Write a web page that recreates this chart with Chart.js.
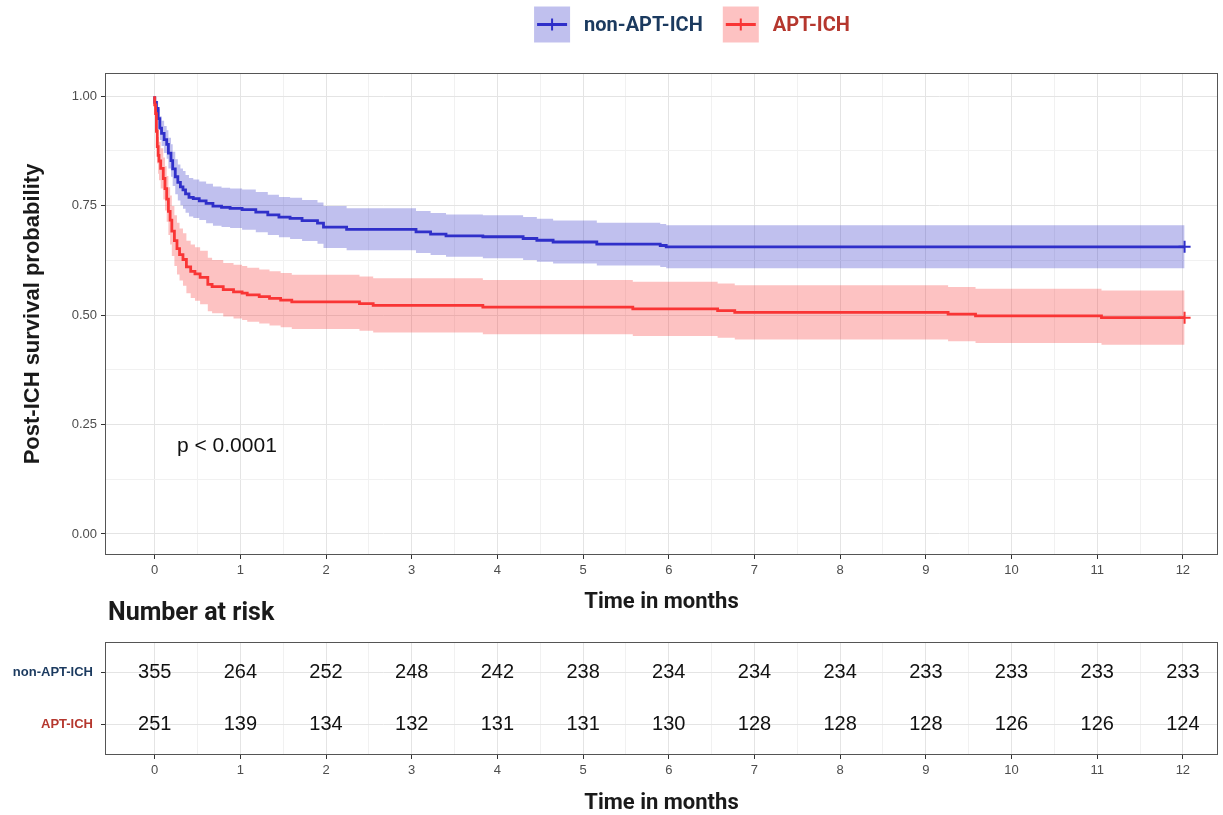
<!DOCTYPE html>
<html>
<head>
<meta charset="utf-8">
<title>Post-ICH survival</title>
<script src="https://cdn.jsdelivr.net/npm/chart.js@4.4.1/dist/chart.umd.min.js"></script>
<style>
  body { margin: 0; background: #fff; }
  #wrap { position: relative; width: 1223px; height: 815px; }
  #survChart { position: absolute; left: 0; top: 0; }
  #riskChart { position: absolute; left: 0; top: 590px; }
</style>
</head>
<body>
<div id="wrap">
  <canvas id="survChart" width="1223" height="625"></canvas>
  <canvas id="riskChart" width="1223" height="225"></canvas>
</div>
<script>
// Series names and colours
const seriesNames = ['non-APT-ICH', 'APT-ICH'];
const lineColors = ['#2f2fc9', '#f93535'];
const bandColors = ['rgba(47, 47, 200, 0.3)', 'rgba(248, 52, 52, 0.3)'];
const labelColors = ['#1b3a5f', '#b5372e'];

// Tick labels
const monthTicks = [0, 1, 2, 3, 4, 5, 6, 7, 8, 9, 10, 11, 12];
const probTicks = [0, 0.25, 0.5, 0.75, 1];

// non-APT-ICH Kaplan-Meier steps (months, survival, 95% CI)
const blueTime = [0, 0.02, 0.04, 0.06, 0.08, 0.11, 0.14, 0.16, 0.19, 0.21, 0.24, 0.27, 0.30, 0.33, 0.36, 0.40, 0.45, 0.52, 0.60, 0.68, 0.78, 0.88, 1.02, 1.18, 1.32, 1.45, 1.58, 1.72, 1.90, 1.97, 2.24, 3.05, 3.22, 3.40, 3.83, 4.30, 4.46, 4.65, 5.16, 5.90, 5.97, 8.90, 12.02];
const blueSurv = [1.000, 0.986, 0.972, 0.949, 0.927, 0.915, 0.901, 0.890, 0.870, 0.853, 0.834, 0.816, 0.803, 0.793, 0.786, 0.777, 0.769, 0.766, 0.761, 0.755, 0.749, 0.746, 0.744, 0.741, 0.735, 0.729, 0.724, 0.721, 0.716, 0.710, 0.701, 0.696, 0.690, 0.685, 0.681, 0.679, 0.675, 0.671, 0.667, 0.662, 0.659, 0.656, 0.656];
const blueUpper = [1.000, 0.998, 0.989, 0.972, 0.954, 0.944, 0.932, 0.922, 0.905, 0.890, 0.873, 0.856, 0.844, 0.835, 0.829, 0.820, 0.813, 0.810, 0.805, 0.800, 0.794, 0.791, 0.789, 0.787, 0.781, 0.775, 0.770, 0.768, 0.763, 0.757, 0.749, 0.744, 0.738, 0.733, 0.730, 0.728, 0.724, 0.720, 0.716, 0.711, 0.708, 0.705, 0.705];
const blueLower = [1.000, 0.974, 0.955, 0.926, 0.900, 0.886, 0.870, 0.857, 0.835, 0.816, 0.795, 0.776, 0.762, 0.751, 0.743, 0.734, 0.725, 0.722, 0.717, 0.710, 0.704, 0.701, 0.699, 0.695, 0.689, 0.683, 0.678, 0.674, 0.669, 0.663, 0.653, 0.648, 0.642, 0.637, 0.633, 0.630, 0.626, 0.622, 0.618, 0.613, 0.610, 0.607, 0.607];

// APT-ICH Kaplan-Meier steps
const redTime = [0, 0.01, 0.02, 0.03, 0.04, 0.05, 0.07, 0.10, 0.12, 0.14, 0.16, 0.18, 0.20, 0.23, 0.26, 0.29, 0.33, 0.37, 0.42, 0.47, 0.53, 0.62, 0.67, 0.80, 0.92, 1.02, 1.08, 1.22, 1.34, 1.47, 1.60, 2.39, 2.55, 3.83, 5.58, 6.57, 6.77, 9.26, 9.58, 11.05, 11.35, 12.02];
const redSurv = [1.000, 0.980, 0.960, 0.920, 0.885, 0.865, 0.852, 0.835, 0.812, 0.789, 0.765, 0.737, 0.717, 0.692, 0.670, 0.652, 0.638, 0.627, 0.610, 0.600, 0.594, 0.586, 0.570, 0.565, 0.558, 0.553, 0.550, 0.546, 0.542, 0.538, 0.534, 0.530, 0.526, 0.522, 0.518, 0.514, 0.510, 0.506, 0.502, 0.498, 0.494, 0.494];
const redUpper = [1.000, 0.997, 0.984, 0.954, 0.925, 0.907, 0.896, 0.881, 0.860, 0.840, 0.818, 0.792, 0.773, 0.749, 0.728, 0.711, 0.698, 0.687, 0.670, 0.661, 0.655, 0.647, 0.631, 0.626, 0.619, 0.615, 0.612, 0.608, 0.604, 0.600, 0.596, 0.592, 0.588, 0.584, 0.580, 0.576, 0.572, 0.568, 0.564, 0.560, 0.556, 0.556];
const redLower = [1.000, 0.963, 0.936, 0.886, 0.846, 0.823, 0.808, 0.789, 0.764, 0.739, 0.713, 0.683, 0.661, 0.635, 0.612, 0.593, 0.579, 0.567, 0.550, 0.539, 0.533, 0.525, 0.509, 0.504, 0.497, 0.492, 0.489, 0.485, 0.481, 0.476, 0.472, 0.468, 0.464, 0.460, 0.456, 0.452, 0.448, 0.444, 0.440, 0.436, 0.432, 0.432];

// Number at risk
const riskNonApt = [355, 264, 252, 248, 242, 238, 234, 234, 234, 233, 233, 233, 233];
const riskApt = [251, 139, 134, 132, 131, 131, 130, 128, 128, 128, 126, 126, 124];

const pValueText = 'p < 0.0001';

Chart.defaults.font.family = '"Liberation Sans", Arial, sans-serif';
Chart.defaults.animation = false;

const GRID_MAJOR = '#e4e4e4';
const GRID_MINOR = '#f1f1f1';
const TICK_TEXT = '#4d4d4d';

// half-month grid for x, eighth grid for y
const monthGrid = [];
monthTicks.forEach((m, i) => {
    monthGrid.push(m);
    if (i < monthTicks.length - 1) monthGrid.push(m + 0.5);
});
const probGrid = [];
probTicks.forEach((p, i) => {
    probGrid.push(p);
    if (i < probTicks.length - 1) probGrid.push(p + 0.125);
});

function toPoints(times, values) {
    return times.map((t, i) => ({ x: t, y: values[i] }));
}

function lastPointOnly(size) {
    return ctx => ctx.dataIndex === ctx.dataset.data.length - 1 ? size : 0;
}

function monthScale(height, titleBottom) {
    return {
        type: 'linear',
        min: -0.58,
        max: 12.41,
        afterBuildTicks: s => { s.ticks = monthGrid.map(v => ({ value: v })); },
        afterFit: s => { s.height = height; },
        ticks: {
            autoSkip: false,
            maxRotation: 0,
            padding: 4,
            color: TICK_TEXT,
            font: { size: 13 },
            callback: v => monthTicks.includes(v) ? String(v) : ''
        },
        grid: {
            color: c => (c.tick && monthTicks.includes(c.tick.value)) ? GRID_MAJOR : GRID_MINOR,
            tickColor: c => (c.tick && monthTicks.includes(c.tick.value)) ? '#333' : 'rgba(0,0,0,0)',
            tickLength: 4
        },
        border: { display: false },
        title: {
            display: true,
            text: 'Time in months',
            color: '#1a1a1a',
            font: { family: 'Roboto', size: 22, weight: 'bold' },
            padding: { top: 0, bottom: titleBottom }
        }
    };
}

// Panel border all round
const panelBorder = {
    id: 'panelBorder',
    afterDraw(chart) {
        const { ctx, chartArea: a } = chart;
        ctx.save();
        ctx.strokeStyle = '#555';
        ctx.lineWidth = 1;
        ctx.strokeRect(Math.round(a.left) + 0.5, Math.round(a.top) + 0.5, Math.round(a.right - a.left) - 1, Math.round(a.bottom - a.top) - 1);
        ctx.restore();
    }
};

const kmLegend = {
    id: 'kmLegend',
    afterDraw(chart) {
        const ctx = chart.ctx;
        ctx.save();
        ctx.font = 'bold 20px Roboto';
        const widths = seriesNames.map(n => ctx.measureText(n).width);
        const box = 36, gapText = 14, gapItem = 20;
        const total = widths.reduce((s, w) => s + box + gapText + w, 0) + gapItem;
        let x = 692 - total / 2;
        const yc = 24.5;
        seriesNames.forEach((name, i) => {
            ctx.fillStyle = bandColors[i];
            ctx.fillRect(x, yc - box / 2, box, box);
            ctx.strokeStyle = lineColors[i];
            ctx.lineWidth = 3;
            ctx.beginPath();
            ctx.moveTo(x + 3, yc);
            ctx.lineTo(x + box - 3, yc);
            ctx.stroke();
            ctx.lineWidth = 2;
            ctx.beginPath();
            ctx.moveTo(x + box / 2, yc - 6);
            ctx.lineTo(x + box / 2, yc + 6);
            ctx.stroke();
            ctx.fillStyle = labelColors[i];
            ctx.textAlign = 'left';
            ctx.textBaseline = 'middle';
            ctx.fillText(name, x + box + gapText, yc + 1);
            x += box + gapText + widths[i] + gapItem;
        });
        ctx.restore();
    }
};

const pValueLabel = {
    id: 'pValueLabel',
    afterDatasetsDraw(chart) {
        const { ctx, scales } = chart;
        ctx.save();
        ctx.font = '21px "Liberation Sans", Arial, sans-serif';
        ctx.fillStyle = '#111';
        ctx.textAlign = 'left';
        ctx.textBaseline = 'middle';
        ctx.fillText(pValueText, scales.x.getPixelForValue(0.26), scales.y.getPixelForValue(0.2));
        ctx.restore();
    }
};

new Chart(document.getElementById('survChart'), {
    type: 'line',
    data: {
        datasets: [
            { data: toPoints(blueTime, blueUpper), stepped: 'after', borderWidth: 0, borderColor: 'transparent', pointRadius: 0, fill: false, order: 5 },
            { data: toPoints(blueTime, blueLower), stepped: 'after', borderWidth: 0, borderColor: 'transparent', pointRadius: 0, fill: '-1', backgroundColor: bandColors[0], order: 5 },
            { data: toPoints(redTime, redUpper), stepped: 'after', borderWidth: 0, borderColor: 'transparent', pointRadius: 0, fill: false, order: 5 },
            { data: toPoints(redTime, redLower), stepped: 'after', borderWidth: 0, borderColor: 'transparent', pointRadius: 0, fill: '-1', backgroundColor: bandColors[1], order: 5 },
            {
                label: seriesNames[0], data: toPoints(blueTime, blueSurv), stepped: 'after',
                borderColor: lineColors[0], borderWidth: 2.8, fill: false, order: 2,
                pointStyle: 'cross', pointRadius: lastPointOnly(6), pointBorderWidth: 2, pointBorderColor: lineColors[0]
            },
            {
                label: seriesNames[1], data: toPoints(redTime, redSurv), stepped: 'after',
                borderColor: lineColors[1], borderWidth: 2.8, fill: false, order: 1,
                pointStyle: 'cross', pointRadius: lastPointOnly(6), pointBorderWidth: 2, pointBorderColor: lineColors[1]
            }
        ]
    },
    options: {
        responsive: false,
        layout: { autoPadding: false, padding: { top: 73, right: 5, bottom: 0, left: 0 } },
        plugins: {
            legend: { display: false },
            tooltip: { enabled: false }
        },
        scales: {
            x: monthScale(70, 9),
            y: {
                min: -0.048,
                max: 1.053,
                afterBuildTicks: s => { s.ticks = probGrid.map(v => ({ value: v })); },
                afterFit: s => { s.width = 105; },
                ticks: {
                    autoSkip: false,
                    padding: 4,
                    color: TICK_TEXT,
                    font: { size: 13 },
                    callback: v => probTicks.includes(v) ? v.toFixed(2) : ''
                },
                grid: {
                    color: c => (c.tick && probTicks.includes(c.tick.value)) ? GRID_MAJOR : GRID_MINOR,
                    tickColor: c => (c.tick && probTicks.includes(c.tick.value)) ? '#333' : 'rgba(0,0,0,0)',
                    tickLength: 4
                },
                border: { display: false },
                title: {
                    display: true,
                    text: 'Post-ICH survival probability',
                    color: '#1a1a1a',
                    font: { size: 22, weight: 'bold' },
                    padding: { top: 20, bottom: 0 }
                }
            }
        }
    },
    plugins: [panelBorder, kmLegend, pValueLabel]
});

// Risk table
const riskNumbers = {
    id: 'riskNumbers',
    afterDatasetsDraw(chart) {
        const ctx = chart.ctx;
        ctx.save();
        ctx.font = '20px "Liberation Sans", Arial, sans-serif';
        ctx.fillStyle = '#111';
        ctx.textAlign = 'center';
        ctx.textBaseline = 'middle';
        chart.data.datasets.forEach((ds, i) => {
            chart.getDatasetMeta(i).data.forEach((pt, j) => {
                ctx.fillText(String(ds.data[j].n), pt.x, pt.y);
            });
        });
        ctx.restore();
    },
    afterDraw(chart) {
        const ctx = chart.ctx;
        ctx.save();
        ctx.font = 'bold 25px Roboto';
        ctx.fillStyle = '#1a1a1a';
        ctx.textAlign = 'left';
        ctx.textBaseline = 'middle';
        ctx.fillText('Number at risk', 108, 24);
        ctx.restore();
    }
};

document.getElementById('riskChart').height = 227;

new Chart(document.getElementById('riskChart'), {
    type: 'scatter',
    data: {
        datasets: [
            { label: seriesNames[0], data: monthTicks.map((m, i) => ({ x: m, y: 2, n: riskNonApt[i] })), pointRadius: 0 },
            { label: seriesNames[1], data: monthTicks.map((m, i) => ({ x: m, y: 1, n: riskApt[i] })), pointRadius: 0 }
        ]
    },
    options: {
        responsive: false,
        layout: { autoPadding: false, padding: { top: 52, right: 5, bottom: 0, left: 0 } },
        plugins: {
            legend: { display: false },
            tooltip: { enabled: false }
        },
        scales: {
            x: monthScale(62, 0),
            y: {
                min: 0.4,
                max: 2.6,
                afterBuildTicks: s => { s.ticks = [{ value: 1 }, { value: 2 }]; },
                afterFit: s => { s.width = 105; },
                ticks: {
                    padding: 8,
                    font: { size: 13, weight: 'bold' },
                    color: c => c.tick && c.tick.value === 2 ? labelColors[0] : labelColors[1],
                    callback: v => v === 2 ? seriesNames[0] : seriesNames[1]
                },
                grid: { color: GRID_MAJOR, tickColor: '#333', tickLength: 4 },
                border: { display: false }
            }
        }
    },
    plugins: [panelBorder, riskNumbers]
});
</script>
</body>
</html>
